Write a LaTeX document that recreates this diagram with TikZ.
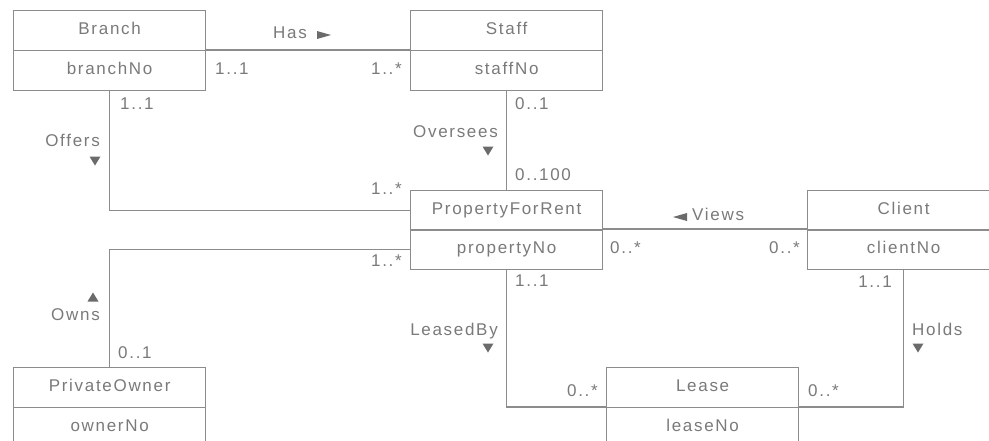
\documentclass[tikz,border=0pt]{standalone}
\usepackage{fontspec}
\setmainfont{Liberation Sans}[LetterSpace=10]
\begin{document}
\begin{tikzpicture}[x=1pt,y=-1pt,
  conn/.style={draw=black!45, line width=1.3pt},
  txt/.style={inner sep=0pt, text=black!52, font=\fontsize{17}{20}\selectfont,
    text height=0.72em, text depth=0pt},
  cls/.style={txt, draw=black!45, line width=1.3pt, minimum width=192pt,
    minimum height=40pt, anchor=north west},
  tri/.style={fill=black!58},
  tridown/.pic={\fill[tri] (-5.5,-4.5) -- (5.5,-4.5) -- (0,4.5) -- cycle;},
  triup/.pic={\fill[tri] (-5.5,4.5) -- (5.5,4.5) -- (0,-4.5) -- cycle;},
  triright/.pic={\fill[tri] (-7,-4) -- (7,0) -- (-7,4) -- cycle;},
  trileft/.pic={\fill[tri] (7,-4) -- (-7,0) -- (7,4) -- cycle;}
]
\path[use as bounding box] (0,0) rectangle (989,440);
\fill[white] (0,0) rectangle (989,440);
\clip (0,0) rectangle (989,440);

% classes: name compartment and key compartment
\node[cls] (branch)   at (13,10)  {Branch};
\node[cls] (branchNo) at (13,50)  {branchNo};
\node[cls] (staff)    at (410,10) {Staff};
\node[cls] (staffNo)  at (410,50) {staffNo};
\node[cls] (pfr)      at (410,190) {PropertyForRent};
\node[cls] (pfrNo)    at (410,229) {propertyNo};
\node[cls] (client)   at (807,190) {Client};
\node[cls] (clientNo) at (807,229) {clientNo};
\node[cls] (owner)    at (13,367) {PrivateOwner};
\node[cls] (ownerNo)  at (13,407) {ownerNo};
\node[cls] (lease)    at (606,367) {Lease};
\node[cls] (leaseNo)  at (606,407) {leaseNo};

% associations
\draw[conn] (branchNo.north east) -- (staffNo.north west);
\draw[conn] (branchNo.south) |- (pfr.west);
\draw[conn] (staffNo.south) -- (pfr.north);
\draw[conn] (pfrNo.north east) -- (clientNo.north west);
\draw[conn] (pfrNo.west) -| (owner.north);
\draw[conn] (pfrNo.south) |- (leaseNo.north west);
\draw[conn] (clientNo.south) |- (leaseNo.north east);

% Has
\node[txt] (hasLbl) at (290,35) {Has};
\pic at (324,35) {triright};
\node[txt, anchor=west] (hasA) at (215,71) {1..1};
\node[txt, anchor=east] (hasB) at (402,71) {1..*};

% Offers
\node[txt, anchor=west] (offA) at (120,106) {1..1};
\node[txt, anchor=east] (offLbl) at (100,143) {Offers};
\pic at (95,161) {tridown};
\node[txt, anchor=east] (offB) at (402,191) {1..*};

% Oversees
\node[txt, anchor=west] (ovA) at (515,106) {0..1};
\node[txt, anchor=east] (ovLbl) at (498,134) {Oversees};
\pic at (488,151) {tridown};
\node[txt, anchor=west] (ovB) at (515,177) {0..100};

% Views
\pic at (680,217) {trileft};
\node[txt, anchor=west] (viewLbl) at (692,217) {Views};
\node[txt, anchor=west] (viewA) at (610,250) {0..*};
\node[txt, anchor=east] (viewB) at (800,250) {0..*};

% Owns
\node[txt, anchor=east] (ownA) at (402,263) {1..*};
\pic at (93,297) {triup};
\node[txt, anchor=east] (ownLbl) at (100,317) {Owns};
\node[txt, anchor=west] (ownB) at (118,355) {0..1};

% LeasedBy
\node[txt, anchor=west] (lbA) at (515,283) {1..1};
\node[txt, anchor=east] (lbLbl) at (498,332) {LeasedBy};
\pic at (488,348) {tridown};
\node[txt, anchor=east] (lbB) at (598,393) {0..*};

% Holds
\node[txt, anchor=east] (hoA) at (892,284) {1..1};
\node[txt, anchor=west] (hoLbl) at (912,332) {Holds};
\pic at (918,348) {tridown};
\node[txt, anchor=west] (hoB) at (808,393) {0..*};
\end{tikzpicture}
\end{document}
